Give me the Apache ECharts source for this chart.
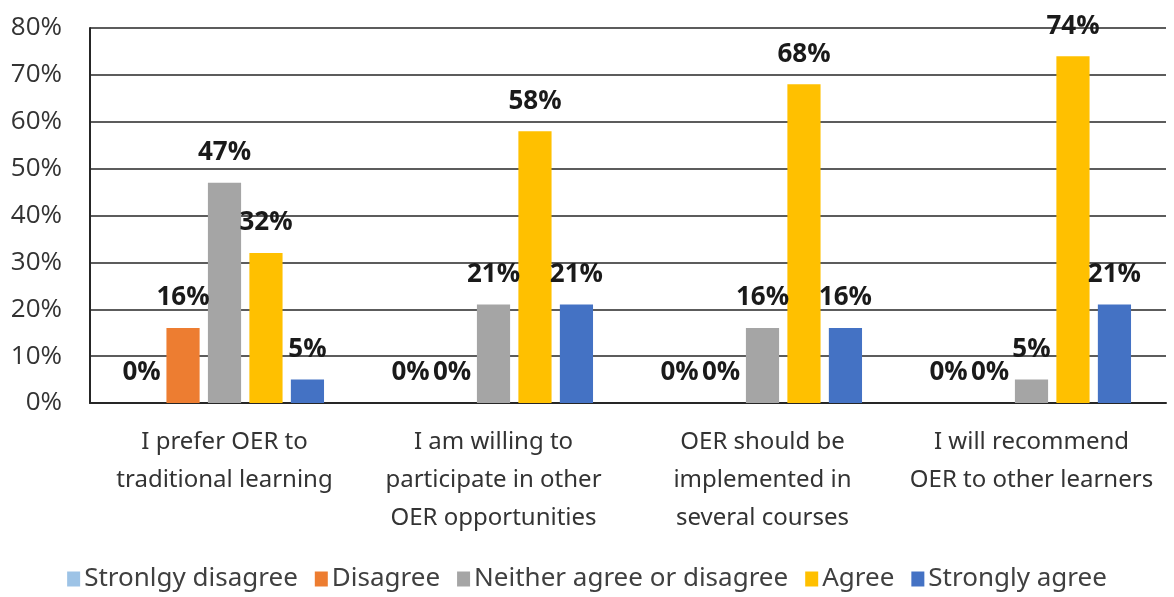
<!DOCTYPE html>
<html>
<head>
<meta charset="utf-8">
<style>
  html, body { margin: 0; padding: 0; background: #fff; }
  #chart { width: 1174px; height: 597px; }
</style>
<script src="https://cdn.jsdelivr.net/npm/echarts@6/dist/echarts.min.js"></script>
</head>
<body>
<div id="chart"></div>
<script>
  // categories on the x axis
  var categories = [
    'I prefer OER to\ntraditional learning',
    'I am willing to\nparticipate in other\nOER opportunities',
    'OER should be\nimplemented in\nseveral courses',
    'I will recommend\nOER to other learners'
  ];
  // one array per answer, percent
  var stronglyDisagree = [0, 0, 0, 0];
  var disagree = [16, 0, 0, 0];
  var neither = [47, 21, 16, 5];
  var agree = [32, 58, 68, 74];
  var stronglyAgree = [5, 21, 16, 21];

  var seriesNames = ['Stronlgy disagree', 'Disagree', 'Neither agree or disagree', 'Agree', 'Strongly agree'];
  var seriesData = [stronglyDisagree, disagree, neither, agree, stronglyAgree];
  var colors = ['#9dc3e6', '#ed7d31', '#a5a5a5', '#ffc000', '#4472c4'];

  var textFont = '"Noto Sans", sans-serif';

  var chart = echarts.init(document.getElementById('chart'));

  var series = seriesNames.map(function (name, i) {
    return {
      name: name,
      type: 'bar',
      data: seriesData[i],
      barGap: '25%',
      barCategoryGap: '26%',
      itemStyle: { color: colors[i] },
      label: {
        show: true,
        position: 'top',
        distance: 17,
        formatter: '{c}%',
        color: '#1a1a1a',
        fontFamily: '"Open Sans", sans-serif',
        fontWeight: 'bold',
        fontSize: 26
      }
    };
  });

  var option = {
    animation: false,
    color: colors,
    grid: {
      left: 90,
      right: 8,
      top: 28,
      bottom: 194
    },
    legend: {
      data: seriesNames,
      bottom: 0,
      left: 'center',
      icon: 'rect',
      itemWidth: 13,
      itemHeight: 15,
      itemGap: 17,
      textStyle: {
        fontFamily: textFont,
        fontSize: 26,
        color: '#404040',
        padding: [0, 0, 0, -1]
      }
    },
    xAxis: {
      type: 'category',
      data: categories,
      axisTick: { show: false },
      axisLine: { show: true, lineStyle: { color: '#262626', width: 2 } },
      axisLabel: {
        interval: 0,
        margin: 20,
        fontFamily: textFont,
        fontSize: 24,
        lineHeight: 38,
        color: '#333333'
      }
    },
    yAxis: {
      type: 'value',
      min: 0,
      max: 80,
      interval: 10,
      axisLine: { show: true, lineStyle: { color: '#262626', width: 2 } },
      axisTick: { show: false },
      splitLine: { lineStyle: { color: '#262626', width: 1.5 } },
      axisLabel: {
        formatter: '{value}%',
        margin: 28,
        fontFamily: '"Open Sans", sans-serif',
        fontSize: 26,
        color: '#333333'
      }
    },
    series: series
  };

  chart.setOption(option);
</script>
</body>
</html>
